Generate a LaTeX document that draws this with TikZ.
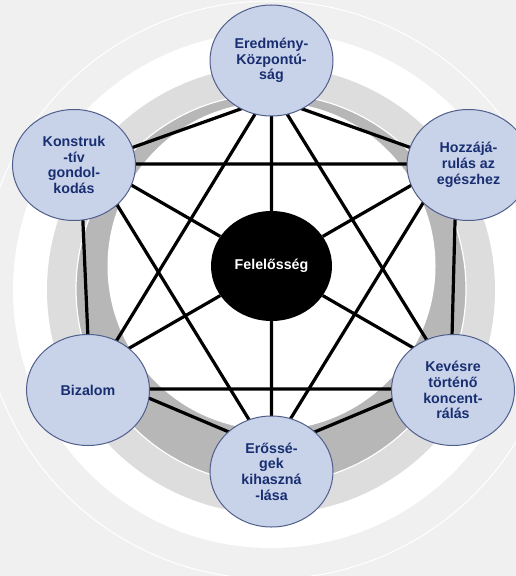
\documentclass[tikz,border=0pt]{standalone}
\usepackage{fontspec}
\setmainfont{Liberation Sans}
\usetikzlibrary{shapes.geometric,backgrounds}
\definecolor{hatter}{RGB}{240,240,240}
\definecolor{vilagosszurke}{RGB}{221,221,221}
\definecolor{sotetszurke}{RGB}{183,183,183}
\definecolor{korkitoltes}{RGB}{200,211,234}
\definecolor{korkeret}{RGB}{80,94,140}
\definecolor{sotetkek}{RGB}{24,46,112}

\begin{document}
\begin{tikzpicture}[x=1bp,y=-1bp,
	ertek/.style={ellipse, draw=korkeret, line width=1bp, fill=korkitoltes, text=sotetkek, minimum width=123bp, minimum height=111bp, inner sep=0pt, align=center, font=\fontsize{14.3}{15.8}\selectfont\bfseries},
	kozep/.style={ellipse, fill=black, text=white, minimum width=121bp, minimum height=110bp, inner sep=0pt, font=\fontsize{14.3}{15.8}\selectfont\bfseries},
	vonal/.style={line width=3.2bp}]
	 \useasboundingbox (0,0) rectangle (516,576);
	 \node[kozep] (c) at (271.5,266) {Felelősség};
	 \node[ertek] (e) at (271.5,60.5) {Eredmény-\\Központú-\\ság};
	 \node[ertek] (k) at (74,165) {Konstruk\\-tív\\gondol-\\kodás};
	 \node[ertek] (h) at (468.5,165) {Hozzájá-\\rulás az\\egészhez};
	 \node[ertek] (b) at (88,390) {Bizalom};
	 \node[ertek] (kv) at (453,390) {Kevésre\\történő\\koncent-\\rálás};
	 \node[ertek] (er) at (271.5,471.5) {Erőssé-\\gek\\kihaszná\\-lása};
	 \begin{scope}[on background layer]
	 \fill[hatter] (0,0) rectangle (516,576);
	 \draw[white, line width=1bp] (270,290) circle [radius=289];
	 \fill[white] (271,290) circle [radius=258];
	 \fill[vilagosszurke] (271,290) circle [radius=224];
	 \draw[white, line width=1.2bp, fill=sotetszurke] (271,289) circle [radius=195];
	 \fill[white] (271.5,266) circle [radius=164];
	 \coordinate (e-hat) at (271.5,98); \coordinate (h-hat) at (456.5,164); \coordinate (kv-hat) at (451,375);
	 \coordinate (er-hat) at (271.5,450); \coordinate (b-hat) at (89.5,373); \coordinate (k-hat) at (80.5,166);
	 \coordinate (e-har) at (271,88); \coordinate (b-har) at (87,389); \coordinate (kv-har) at (457,389);
	 \coordinate (k-har) at (92,164); \coordinate (h-har) at (447,164); \coordinate (er-har) at (269.5,453);
	 \coordinate (e-kul) at (271.5,66); \coordinate (h-kul) at (444.7,166); \coordinate (kv-kul) at (444.7,366);
	 \coordinate (er-kul) at (271.5,466); \coordinate (b-kul) at (98.3,366); \coordinate (k-kul) at (98.3,166);
	 \draw[vonal] (e-hat) -- (h-hat) -- (kv-hat) -- (er-hat) -- (b-hat) -- (k-hat) -- cycle;
	 \draw[vonal] (e-har) -- (b-har) -- (kv-har) -- cycle;
	 \draw[vonal] (k-har) -- (h-har) -- (er-har) -- cycle;
	 \draw[vonal] (c) -- (e-kul) (c) -- (h-kul) (c) -- (kv-kul) (c) -- (er-kul) (c) -- (b-kul) (c) -- (k-kul);
	 \end{scope}
\end{tikzpicture}
\end{document}
